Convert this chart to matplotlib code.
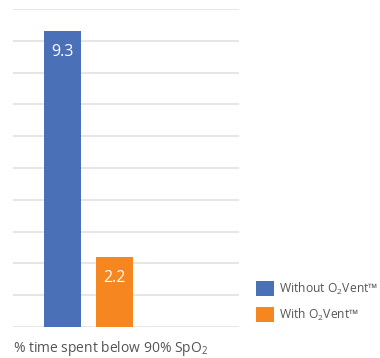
import matplotlib
matplotlib.use("Agg")
import matplotlib.pyplot as plt
from matplotlib.patches import Patch

# Chart data
series_labels = ["Without O$_2$Vent™", "With O$_2$Vent™"]
values = [9.3, 2.2]
value_labels = ["9.3", "2.2"]
colours = ["#4a70b7", "#f58620"]
xlabel = "% time spent below 90% SpO$_2$"

plt.rcParams["font.family"] = ["Open Sans", "DejaVu Sans"]
plt.rcParams["mathtext.fontset"] = "custom"
plt.rcParams["mathtext.rm"] = "Open Sans"
plt.rcParams["mathtext.it"] = "Open Sans"

W, H = 380, 358
fig = plt.figure(figsize=(W / 100, H / 100), dpi=100, facecolor="white")
# axes spans x 13..239 px, y 9..327 px (from top)
ax = fig.add_axes([13 / W, 1 - 327 / H, (239 - 13) / W, (327 - 9) / H])

xs = list(range(len(values)))
bars = ax.bar(xs, values, width=0.71, color=colours, zorder=2)
for b, lab in zip(bars, value_labels):
    ax.annotate(lab, (b.get_x() + b.get_width() / 2, b.get_height()),
                xytext=(0, -21), textcoords="offset pixels",
                ha="center", va="center", color="white", fontsize=11.5, zorder=3)

ax.set_xlim(-0.952, 3.394)
ax.set_ylim(0, 10)
ax.set_yticks(range(0, 11))
ax.yaxis.grid(True, color="#e2e2e2", linewidth=1.2, zorder=0)
ax.set_axisbelow(True)
for s in ax.spines.values():
    s.set_visible(False)
ax.tick_params(left=False, bottom=False, labelleft=False, labelbottom=False)

fig.text(13 / W, 1 - 348 / H, xlabel, ha="left", va="center",
         color="#555555", fontsize=10)

handles = [Patch(facecolor=c) for c in colours]
fig.legend(handles, series_labels, loc="upper left",
           bbox_to_anchor=(254 / W, 1 - 279 / H), frameon=False,
           handlelength=1.5, handleheight=1.5, handletextpad=0.4,
           labelspacing=0.8, fontsize=8.7, labelcolor="#555555",
           borderaxespad=0, borderpad=0.15)

fig.savefig("out.png", dpi=100)
